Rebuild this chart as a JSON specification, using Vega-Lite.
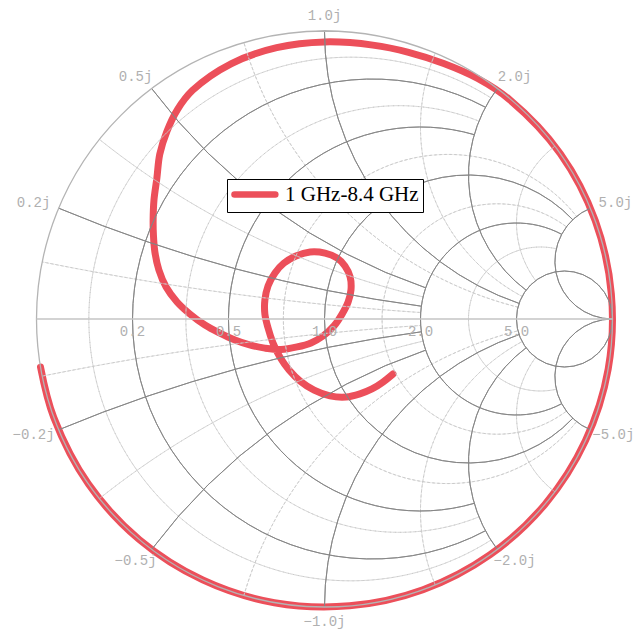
{
  "$schema": "https://vega.github.io/schema/vega-lite/v6.json",
  "width": 636,
  "height": 631,
  "padding": 0,
  "autosize": {"type": "none"},
  "background": "white",
  "config": {"view": {"stroke": null}},
  "datasets": {
    "grid": [
      {"t": "frame", "cx": 0, "cy": 0, "rad": 1, "a1": 0, "a2": 6.2832},
      {"t": "major", "cx": 0.1667, "cy": 0, "rad": 0.8333, "a1": -3.6316, "a2": 0.4900},
      {"t": "major", "cx": 0.3333, "cy": 0, "rad": 0.6667, "a1": -3.4254, "a2": 0.2838},
      {"t": "major", "cx": 0.5, "cy": 0, "rad": 0.5, "a1": -3.9514, "a2": 0.8098},
      {"t": "major", "cx": 0.6667, "cy": 0, "rad": 0.3333, "a1": -3.6316, "a2": 0.4900},
      {"t": "major", "cx": 0.8333, "cy": 0, "rad": 0.1667, "a1": 0, "a2": 6.2832},
      {"t": "major", "cx": 1, "cy": 5, "rad": 5, "a1": 3.2746, "a2": 3.5364},
      {"t": "major", "cx": 1, "cy": -5, "rad": 5, "a1": -0.3948, "a2": -0.1330},
      {"t": "major", "cx": 1, "cy": 2, "rad": 2, "a1": 3.4719, "a2": 4.0689},
      {"t": "major", "cx": 1, "cy": -2, "rad": 2, "a1": -0.9273, "a2": -0.3303},
      {"t": "major", "cx": 1, "cy": 1, "rad": 1, "a1": 3.4719, "a2": 4.7124},
      {"t": "major", "cx": 1, "cy": -1, "rad": 1, "a1": -1.5708, "a2": -0.3303},
      {"t": "major", "cx": 1, "cy": 0.5, "rad": 0.5, "a1": 3.7851, "a2": 5.3559},
      {"t": "major", "cx": 1, "cy": -0.5, "rad": 0.5, "a1": -2.2143, "a2": -0.6435},
      {"t": "major", "cx": 1, "cy": 0.2, "rad": 0.2, "a1": 3.1416, "a2": 5.8884},
      {"t": "major", "cx": 1, "cy": -0.2, "rad": 0.2, "a1": -2.7468, "a2": 0},
      {"t": "minor", "cx": 0.0909, "cy": 0, "rad": 0.9091, "a1": -3.7066, "a2": 0.5650},
      {"t": "minor", "cx": 0.2593, "cy": 0, "rad": 0.7407, "a1": -3.5248, "a2": 0.3832},
      {"t": "minor", "cx": 0.4286, "cy": 0, "rad": 0.5714, "a1": -4.0390, "a2": 0.8974},
      {"t": "minor", "cx": 0.6, "cy": 0, "rad": 0.4, "a1": -3.7851, "a2": 0.6435},
      {"t": "minor", "cx": 0.75, "cy": 0, "rad": 0.25, "a1": -3.3630, "a2": 0.2214},
      {"t": "minor", "cx": 1, "cy": 10, "rad": 10, "a1": 3.2082, "a2": 3.3409},
      {"t": "minor", "cx": 1, "cy": -10, "rad": 10, "a1": -0.1993, "a2": -0.0666},
      {"t": "minor", "cx": 1, "cy": 2.8571, "rad": 2.8571, "a1": 3.3738, "a2": 3.8150},
      {"t": "minor", "cx": 1, "cy": -2.8571, "rad": 2.8571, "a1": -0.6734, "a2": -0.2322},
      {"t": "minor", "cx": 1, "cy": 1.3333, "rad": 1.3333, "a1": 3.3903, "a2": 4.4286},
      {"t": "minor", "cx": 1, "cy": -1.3333, "rad": 1.3333, "a1": -1.2870, "a2": -0.2487},
      {"t": "minor", "cx": 1, "cy": 0.6667, "rad": 0.6667, "a1": 3.6316, "a2": 5.1072},
      {"t": "minor", "cx": 1, "cy": -0.6667, "rad": 0.6667, "a1": -1.9656, "a2": -0.4900},
      {"t": "minor", "cx": 1, "cy": 0.3333, "rad": 0.3333, "a1": 4.0689, "a2": 5.6397},
      {"t": "minor", "cx": 1, "cy": -0.3333, "rad": 0.3333, "a1": -2.4981, "a2": -0.9273}
    ],
    "axisline": [{"x1": -1, "x2": 1, "y": 0}],
    "labels": [
      {"label": "1.0j", "lx": 0, "ly": 1.052},
      {"label": "−1.0j", "lx": 0, "ly": -1.052},
      {"label": "0.5j", "lx": -0.656, "ly": 0.841},
      {"label": "−0.5j", "lx": -0.656, "ly": -0.841},
      {"label": "0.2j", "lx": -1.01, "ly": 0.404},
      {"label": "−0.2j", "lx": -1.01, "ly": -0.404},
      {"label": "2.0j", "lx": 0.66, "ly": 0.841},
      {"label": "−2.0j", "lx": 0.66, "ly": -0.841},
      {"label": "5.0j", "lx": 1.01, "ly": 0.404},
      {"label": "−5.0j", "lx": 1.003, "ly": -0.404},
      {"label": "0.2", "lx": -0.6667, "ly": -0.045},
      {"label": "0.5", "lx": -0.3333, "ly": -0.045},
      {"label": "1.0", "lx": 0, "ly": -0.045},
      {"label": "2.0", "lx": 0.3333, "ly": -0.045},
      {"label": "5.0", "lx": 0.6667, "ly": -0.045}
    ],
    "trace": [
      {"i": 1, "gx": -0.986, "gy": -0.167, "s": "1 GHz-8.4 GHz"},
      {"i": 2, "gx": -0.94, "gy": -0.342, "s": "1 GHz-8.4 GHz"},
      {"i": 3, "gx": -0.819, "gy": -0.574, "s": "1 GHz-8.4 GHz"},
      {"i": 4, "gx": -0.643, "gy": -0.766, "s": "1 GHz-8.4 GHz"},
      {"i": 5, "gx": -0.423, "gy": -0.906, "s": "1 GHz-8.4 GHz"},
      {"i": 6, "gx": -0.174, "gy": -0.985, "s": "1 GHz-8.4 GHz"},
      {"i": 7, "gx": 0.087, "gy": -0.996, "s": "1 GHz-8.4 GHz"},
      {"i": 8, "gx": 0.342, "gy": -0.94, "s": "1 GHz-8.4 GHz"},
      {"i": 9, "gx": 0.574, "gy": -0.819, "s": "1 GHz-8.4 GHz"},
      {"i": 10, "gx": 0.766, "gy": -0.643, "s": "1 GHz-8.4 GHz"},
      {"i": 11, "gx": 0.906, "gy": -0.423, "s": "1 GHz-8.4 GHz"},
      {"i": 12, "gx": 0.985, "gy": -0.174, "s": "1 GHz-8.4 GHz"},
      {"i": 13, "gx": 0.996, "gy": 0.087, "s": "1 GHz-8.4 GHz"},
      {"i": 14, "gx": 0.94, "gy": 0.342, "s": "1 GHz-8.4 GHz"},
      {"i": 15, "gx": 0.819, "gy": 0.574, "s": "1 GHz-8.4 GHz"},
      {"i": 16, "gx": 0.641, "gy": 0.763, "s": "1 GHz-8.4 GHz"},
      {"i": 17, "gx": 0.532, "gy": 0.835, "s": "1 GHz-8.4 GHz"},
      {"i": 18, "gx": 0.414, "gy": 0.887, "s": "1 GHz-8.4 GHz"},
      {"i": 19, "gx": 0.292, "gy": 0.926, "s": "1 GHz-8.4 GHz"},
      {"i": 20, "gx": 0.168, "gy": 0.951, "s": "1 GHz-8.4 GHz"},
      {"i": 21, "gx": 0, "gy": 0.962, "s": "1 GHz-8.4 GHz"},
      {"i": 22, "gx": -0.166, "gy": 0.942, "s": "1 GHz-8.4 GHz"},
      {"i": 23, "gx": -0.323, "gy": 0.887, "s": "1 GHz-8.4 GHz"},
      {"i": 24, "gx": -0.458, "gy": 0.794, "s": "1 GHz-8.4 GHz"},
      {"i": 25, "gx": -0.51, "gy": 0.728, "s": "1 GHz-8.4 GHz"},
      {"i": 26, "gx": -0.547, "gy": 0.652, "s": "1 GHz-8.4 GHz"},
      {"i": 27, "gx": -0.572, "gy": 0.572, "s": "1 GHz-8.4 GHz"},
      {"i": 28, "gx": -0.582, "gy": 0.489, "s": "1 GHz-8.4 GHz"},
      {"i": 29, "gx": -0.592, "gy": 0.414, "s": "1 GHz-8.4 GHz"},
      {"i": 30, "gx": -0.595, "gy": 0.344, "s": "1 GHz-8.4 GHz"},
      {"i": 31, "gx": -0.594, "gy": 0.292, "s": "1 GHz-8.4 GHz"},
      {"i": 32, "gx": -0.589, "gy": 0.233, "s": "1 GHz-8.4 GHz"},
      {"i": 33, "gx": -0.575, "gy": 0.17, "s": "1 GHz-8.4 GHz"},
      {"i": 34, "gx": -0.55, "gy": 0.111, "s": "1 GHz-8.4 GHz"},
      {"i": 35, "gx": -0.512, "gy": 0.059, "s": "1 GHz-8.4 GHz"},
      {"i": 36, "gx": -0.467, "gy": 0.017, "s": "1 GHz-8.4 GHz"},
      {"i": 37, "gx": -0.415, "gy": -0.021, "s": "1 GHz-8.4 GHz"},
      {"i": 38, "gx": -0.363, "gy": -0.049, "s": "1 GHz-8.4 GHz"},
      {"i": 39, "gx": -0.311, "gy": -0.073, "s": "1 GHz-8.4 GHz"},
      {"i": 40, "gx": -0.26, "gy": -0.09, "s": "1 GHz-8.4 GHz"},
      {"i": 41, "gx": -0.207, "gy": -0.101, "s": "1 GHz-8.4 GHz"},
      {"i": 42, "gx": -0.151, "gy": -0.106, "s": "1 GHz-8.4 GHz"},
      {"i": 43, "gx": -0.095, "gy": -0.097, "s": "1 GHz-8.4 GHz"},
      {"i": 44, "gx": -0.047, "gy": -0.083, "s": "1 GHz-8.4 GHz"},
      {"i": 45, "gx": -0.005, "gy": -0.059, "s": "1 GHz-8.4 GHz"},
      {"i": 46, "gx": 0.033, "gy": -0.024, "s": "1 GHz-8.4 GHz"},
      {"i": 47, "gx": 0.061, "gy": 0.017, "s": "1 GHz-8.4 GHz"},
      {"i": 48, "gx": 0.082, "gy": 0.059, "s": "1 GHz-8.4 GHz"},
      {"i": 49, "gx": 0.092, "gy": 0.101, "s": "1 GHz-8.4 GHz"},
      {"i": 50, "gx": 0.089, "gy": 0.146, "s": "1 GHz-8.4 GHz"},
      {"i": 51, "gx": 0.071, "gy": 0.184, "s": "1 GHz-8.4 GHz"},
      {"i": 52, "gx": 0.043, "gy": 0.212, "s": "1 GHz-8.4 GHz"},
      {"i": 53, "gx": 0.002, "gy": 0.229, "s": "1 GHz-8.4 GHz"},
      {"i": 54, "gx": -0.05, "gy": 0.233, "s": "1 GHz-8.4 GHz"},
      {"i": 55, "gx": -0.099, "gy": 0.219, "s": "1 GHz-8.4 GHz"},
      {"i": 56, "gx": -0.141, "gy": 0.194, "s": "1 GHz-8.4 GHz"},
      {"i": 57, "gx": -0.172, "gy": 0.16, "s": "1 GHz-8.4 GHz"},
      {"i": 58, "gx": -0.196, "gy": 0.115, "s": "1 GHz-8.4 GHz"},
      {"i": 59, "gx": -0.207, "gy": 0.066, "s": "1 GHz-8.4 GHz"},
      {"i": 60, "gx": -0.207, "gy": 0.017, "s": "1 GHz-8.4 GHz"},
      {"i": 61, "gx": -0.196, "gy": -0.031, "s": "1 GHz-8.4 GHz"},
      {"i": 62, "gx": -0.179, "gy": -0.083, "s": "1 GHz-8.4 GHz"},
      {"i": 63, "gx": -0.155, "gy": -0.132, "s": "1 GHz-8.4 GHz"},
      {"i": 64, "gx": -0.123, "gy": -0.177, "s": "1 GHz-8.4 GHz"},
      {"i": 65, "gx": -0.085, "gy": -0.215, "s": "1 GHz-8.4 GHz"},
      {"i": 66, "gx": -0.036, "gy": -0.247, "s": "1 GHz-8.4 GHz"},
      {"i": 67, "gx": 0.019, "gy": -0.267, "s": "1 GHz-8.4 GHz"},
      {"i": 68, "gx": 0.075, "gy": -0.271, "s": "1 GHz-8.4 GHz"},
      {"i": 69, "gx": 0.123, "gy": -0.26, "s": "1 GHz-8.4 GHz"},
      {"i": 70, "gx": 0.165, "gy": -0.243, "s": "1 GHz-8.4 GHz"},
      {"i": 71, "gx": 0.203, "gy": -0.219, "s": "1 GHz-8.4 GHz"},
      {"i": 72, "gx": 0.238, "gy": -0.191, "s": "1 GHz-8.4 GHz"}
    ]
  },
  "layer": [
    {
      "data": {"name": "trace"},
      "mark": {"type": "line", "strokeWidth": 7, "strokeCap": "round", "strokeJoin": "round", "interpolate": "catmull-rom"},
      "encoding": {
        "x": {"field": "gx", "type": "quantitative", "scale": {"domain": [-1.1267, 1.0816], "nice": false, "zero": false}, "axis": null},
        "y": {"field": "gy", "type": "quantitative", "scale": {"domain": [-1.0833, 1.1076], "nice": false, "zero": false}, "axis": null},
        "order": {"field": "i", "type": "quantitative"},
        "color": {
          "field": "s", "type": "nominal",
          "scale": {"range": ["#ec4f5a"]},
          "legend": {
            "orient": "none", "legendX": 227, "legendY": 179, "title": null,
            "symbolType": "M-1,0L4.1,0", "symbolSize": 256, "symbolStrokeWidth": 6.5,
            "labelFont": "Liberation Serif", "labelFontSize": 21, "labelColor": "black", "labelOffset": 31,
            "padding": 4, "fillColor": "white", "strokeColor": "black", "cornerRadius": 0, "labelLimit": 0,
            "encode": {"symbols": {"update": {"strokeCap": {"value": "round"}}}}
          }
        }
      }
    },
    {
      "data": {"name": "grid"},
      "transform": [{"filter": "datum.t === 'minor'"}],
      "mark": {"type": "arc", "filled": false, "stroke": "#c8c8c8", "strokeWidth": 0.8, "strokeDash": [3, 2]},
      "encoding": {
        "x": {"field": "cx", "type": "quantitative", "scale": {"domain": [-1.1267, 1.0816], "nice": false, "zero": false}, "axis": null},
        "y": {"field": "cy", "type": "quantitative", "scale": {"domain": [-1.0833, 1.1076], "nice": false, "zero": false}, "axis": null},
        "theta": {"field": "a1", "type": "quantitative", "scale": null},
        "theta2": {"field": "a2"},
        "radius": {"field": "rad", "type": "quantitative", "scale": {"type": "linear", "domain": [0, 1], "range": [0, 288], "zero": true}},
        "radius2": {"field": "rad"}
      }
    },
    {
      "data": {"name": "grid"},
      "transform": [{"filter": "datum.t === 'major'"}],
      "mark": {"type": "arc", "filled": false, "stroke": "#858585", "strokeWidth": 0.9},
      "encoding": {
        "x": {"field": "cx", "type": "quantitative", "scale": {"domain": [-1.1267, 1.0816], "nice": false, "zero": false}, "axis": null},
        "y": {"field": "cy", "type": "quantitative", "scale": {"domain": [-1.0833, 1.1076], "nice": false, "zero": false}, "axis": null},
        "theta": {"field": "a1", "type": "quantitative", "scale": null},
        "theta2": {"field": "a2"},
        "radius": {"field": "rad", "type": "quantitative", "scale": {"type": "linear", "domain": [0, 1], "range": [0, 288], "zero": true}},
        "radius2": {"field": "rad"}
      }
    },
    {
      "data": {"name": "grid"},
      "transform": [{"filter": "datum.t === 'frame'"}],
      "mark": {"type": "arc", "filled": false, "stroke": "#b4b4b4", "strokeWidth": 1.3},
      "encoding": {
        "x": {"field": "cx", "type": "quantitative", "scale": {"domain": [-1.1267, 1.0816], "nice": false, "zero": false}, "axis": null},
        "y": {"field": "cy", "type": "quantitative", "scale": {"domain": [-1.0833, 1.1076], "nice": false, "zero": false}, "axis": null},
        "theta": {"field": "a1", "type": "quantitative", "scale": null},
        "theta2": {"field": "a2"},
        "radius": {"field": "rad", "type": "quantitative", "scale": {"type": "linear", "domain": [0, 1], "range": [0, 288], "zero": true}},
        "radius2": {"field": "rad"}
      }
    },
    {
      "data": {"name": "axisline"},
      "mark": {"type": "rule", "stroke": "#c4c4c4", "strokeWidth": 1.5},
      "encoding": {
        "x": {"field": "x1", "type": "quantitative", "scale": {"domain": [-1.1267, 1.0816], "nice": false, "zero": false}, "axis": null},
        "x2": {"field": "x2"},
        "y": {"field": "y", "type": "quantitative", "scale": {"domain": [-1.0833, 1.1076], "nice": false, "zero": false}, "axis": null}
      }
    },
    {
      "data": {"name": "labels"},
      "mark": {"type": "text", "font": "Liberation Mono", "fontSize": 14, "color": "#b0b0b0", "align": "center", "baseline": "middle"},
      "encoding": {
        "x": {"field": "lx", "type": "quantitative", "scale": {"domain": [-1.1267, 1.0816], "nice": false, "zero": false}, "axis": null},
        "y": {"field": "ly", "type": "quantitative", "scale": {"domain": [-1.0833, 1.1076], "nice": false, "zero": false}, "axis": null},
        "text": {"field": "label", "type": "nominal"}
      }
    }
  ]
}
